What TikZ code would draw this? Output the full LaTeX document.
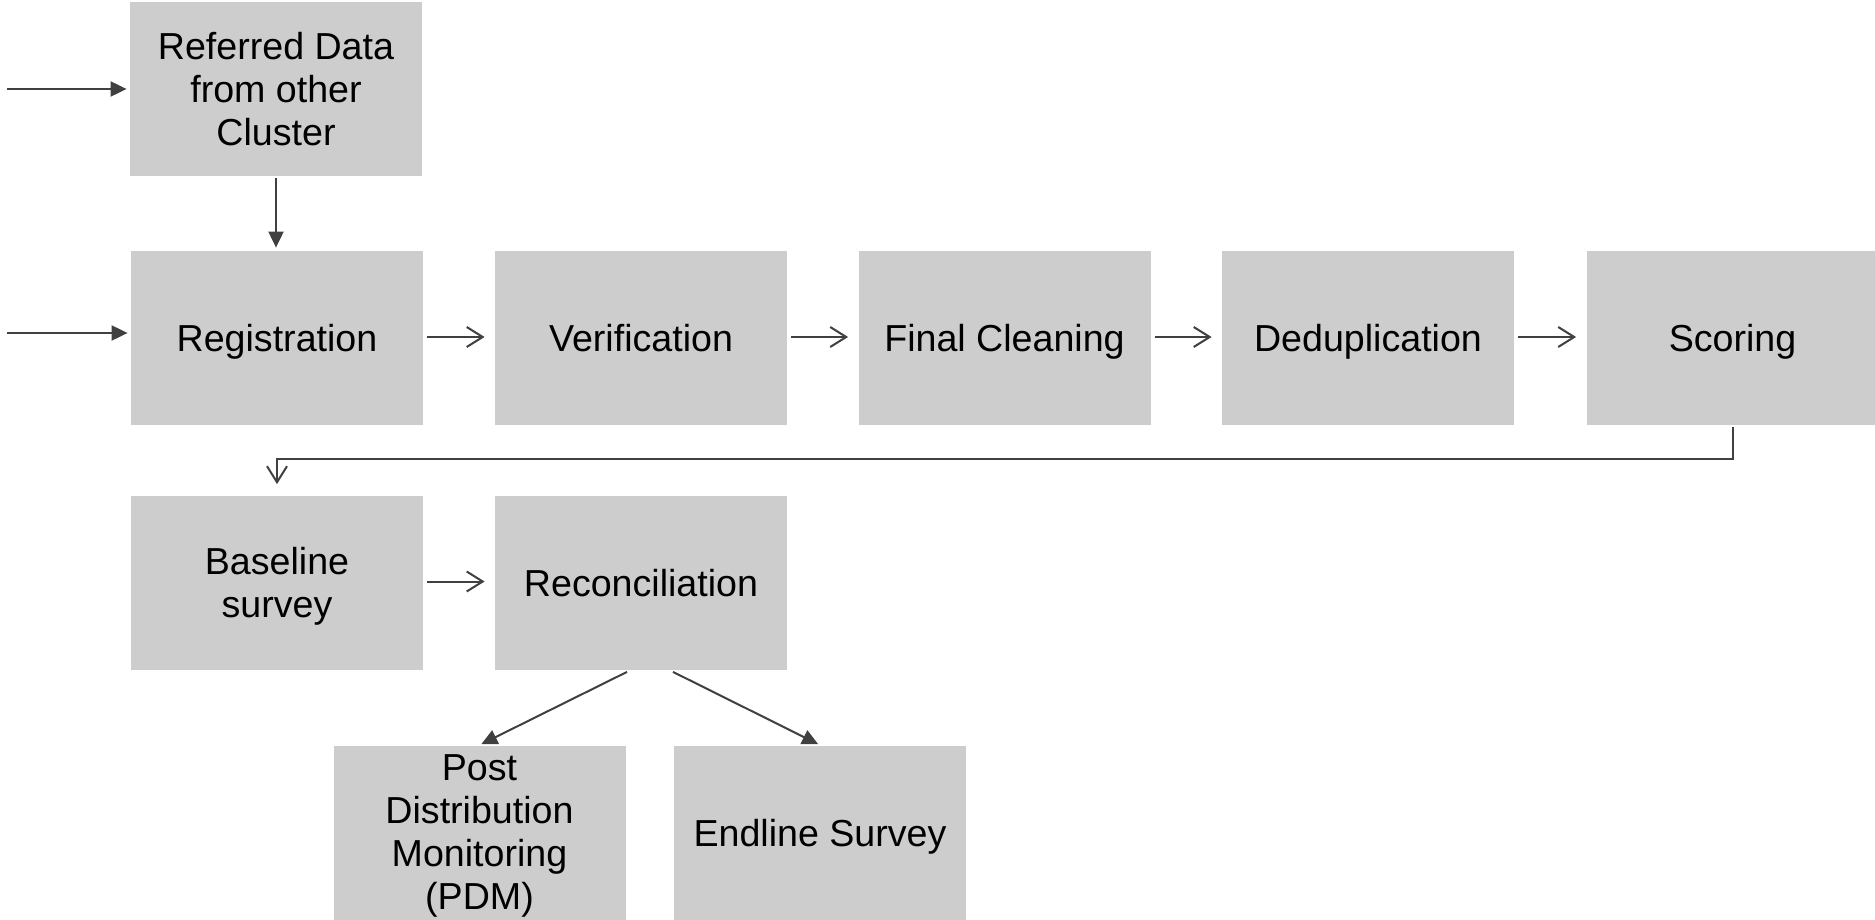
\documentclass[tikz,border=0pt]{standalone}
\usepackage{fontspec}
\setmainfont{Liberation Sans}
\usetikzlibrary{arrows.meta,calc}
\definecolor{boxgray}{HTML}{CDCDCD}
\definecolor{linegray}{HTML}{404040}
\begin{document}
\begin{tikzpicture}[x=0.5pt,y=-0.5pt,
  stepbox/.style={rectangle,fill=boxgray,draw=none,minimum width=146pt,minimum height=87pt,
    align=center,inner sep=0pt,text depth=0pt,font=\fontsize{18.8}{21.5}\selectfont},
  openarr/.style={draw=linegray,line width=1pt,-{Straight Barb[length=8pt,width=10pt,line width=1pt]}},
  fillarr/.style={draw=linegray,line width=1pt,-{Triangle[length=8pt,width=7.5pt]}}]
\useasboundingbox (0,0) rectangle (1875,920);
\node[stepbox] (ref) at (276,89) {Referred Data\\from other\\Cluster};
\node[stepbox] (reg) at (277,338) {Registration};
\node[stepbox] (ver) at (641,338) {Verification};
\node[stepbox] (fin) at (1004.5,338) {Final Cleaning};
\node[stepbox] (ded) at (1368,338) {Deduplication};
\node[stepbox] (sco) at (1732.5,338) {Scoring};
\node[stepbox] (base) at (277,582.5) {Baseline\\survey};
\node[stepbox] (rec) at (641,582.5) {Reconciliation};
\node[stepbox] (pdm) at (479.5,832.5) {Post\\Distribution\\Monitoring\\(PDM)};
\node[stepbox] (end) at (820,832.5) {Endline Survey};
\coordinate (in1) at (7,89);
\coordinate (in2) at (7,333);
\draw[fillarr,shorten >=1.5pt] (in1) -- (in1 -| ref.west);
\draw[fillarr,shorten >=1.5pt] (in2) -- (in2 -| reg.west);
\draw[fillarr,shorten <=1pt,shorten >=1.5pt] (ref.south) -- (ref.south |- reg.north);
\foreach \a/\b in {reg/ver,ver/fin,fin/ded,ded/sco,base/rec}
  \draw[openarr,shorten <=2pt,shorten >=5pt] ([yshift=0.5pt]\a.east) -- ([yshift=0.5pt]\b.west);
\draw[openarr,shorten <=1pt,shorten >=5.5pt] (sco.south) -- ++(0,34) -| (base.north);
\draw[fillarr,shorten >=1pt] ([xshift=-7pt,yshift=-1pt]rec.south) -- (pdm.north);
\draw[fillarr,shorten >=1pt] ([xshift=16pt,yshift=-1pt]rec.south) -- (end.north);
\end{tikzpicture}
\end{document}
